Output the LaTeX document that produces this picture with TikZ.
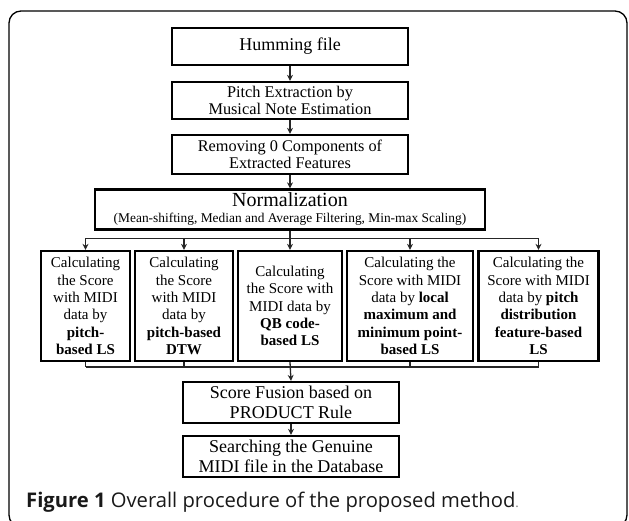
\documentclass[tikz,border=0pt]{standalone}
\usepackage{fontspec}
\setmainfont{Liberation Serif}
\newfontfamily\capfont{Open Sans}
\usetikzlibrary{arrows.meta}
\begin{document}
\begin{tikzpicture}[x=1pt,y=-1pt,
  box/.style={draw=black, line width=2.3pt, inner sep=0pt, align=center, text=black},
  conn/.style={line width=1.3pt, draw=black!85},
  arr/.style={conn, -{Stealth[length=6pt,width=6pt]}},
  fA/.style={font=\fontsize{18}{20}\selectfont},
  fB/.style={font=\fontsize{16.3}{17}\selectfont},
  fC/.style={font=\fontsize{15}{17.3}\selectfont},
]
\useasboundingbox (0,0) rectangle (629,521);
\draw[line width=1.3pt, rounded corners=12pt] (9,11) rectangle (627,527);

\node[box, fA, minimum width=236pt, minimum height=37pt] (hum) at (290,46.5) {Humming file};
\node[box, fB, minimum width=236pt, minimum height=37pt] (pit) at (290,100.5) {Pitch Extraction by\\Musical Note Estimation};
\node[box, fB, minimum width=236pt, minimum height=39pt] (rem) at (290,154.5) {Removing 0 Components of\\Extracted Features};
\node[box, minimum width=390pt, minimum height=40pt] (nor) at (290,209.5) {{\fontsize{20}{20}\selectfont Normalization}\\[4pt]{\fontsize{13.4}{14}\selectfont (Mean-shifting, Median and Average Filtering, Min-max Scaling)}};

\node[box, fC, minimum width=89pt, minimum height=110pt] (b1) at (85.5,306) {Calculating\\the Score\\with MIDI\\data by\\\textbf{pitch-}\\\textbf{based LS}};
\node[box, fC, minimum width=98pt, minimum height=110pt] (b2) at (184,306) {Calculating\\the Score\\with MIDI\\data by\\\textbf{pitch-based}\\\textbf{DTW}};
\node[box, fC, minimum width=104pt, minimum height=110pt] (b3) at (290,306) {Calculating\\the Score with\\MIDI data by\\\textbf{QB code-}\\\textbf{based LS}};
\node[box, fC, minimum width=126pt, minimum height=110pt] (b4) at (410,306) {Calculating the\\Score with MIDI\\data by \textbf{local}\\\textbf{maximum and}\\\textbf{minimum point-}\\\textbf{based LS}};
\node[box, fC, minimum width=120pt, minimum height=110pt] (b5) at (538.5,306) {Calculating the\\Score with MIDI\\data by \textbf{pitch}\\\textbf{distribution}\\\textbf{feature-based}\\\textbf{LS}};

\node[box, fA, minimum width=216pt, minimum height=41pt] (fus) at (291,402.5) {Score Fusion based on\\PRODUCT Rule};
\node[box, fA, minimum width=216pt, minimum height=41pt] (sea) at (291,456.5) {Searching the Genuine\\MIDI file in the Database};

\draw[arr] (hum) -- (pit);
\draw[arr] (pit) -- (rem);
\draw[arr] (rem) -- (nor);

\coordinate (split) at (290,238.5);
\draw[conn] (nor.south) -- (split);
\draw[conn] (b1.north |- split) -- (b5.north |- split);
\foreach \b in {b1,b2,b3,b4,b5} \draw[arr] (\b.north |- split) -- (\b.north);

\coordinate (join) at (290,367);
\draw[conn] (b1.south |- join) -- (b5.south |- join);
\foreach \b in {b1,b2,b4,b5} \draw[conn] (\b.south) -- (\b.south |- join);
\draw[arr] (b3.south) -- (fus.north);
\draw[arr] (fus) -- (sea);

\node[anchor=west, inner sep=0pt, text=black!90, font=\capfont\fontsize{20.2}{22}\selectfont] (cap) at (26,502)
  {\textbf{Figure 1} Overall procedure of the proposed method{\color{black!55}\fontsize{13}{13}\selectfont .}};
\end{tikzpicture}
\end{document}
